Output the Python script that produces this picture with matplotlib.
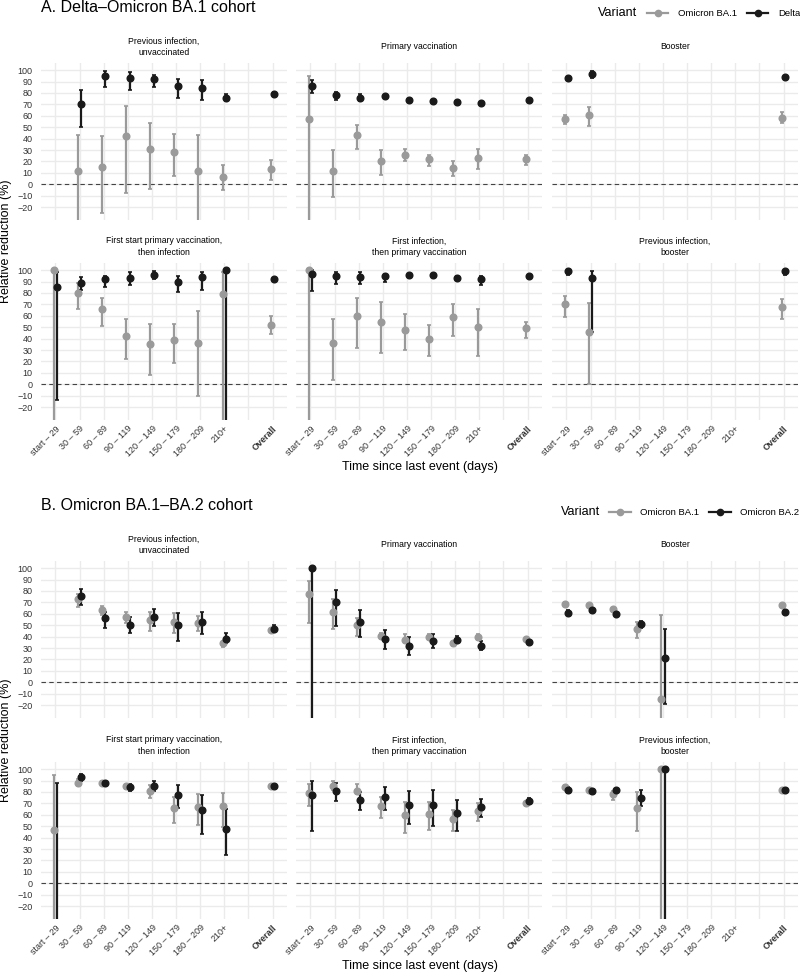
import matplotlib
matplotlib.use("Agg")
import matplotlib.pyplot as plt
from matplotlib.lines import Line2D

plt.rcParams['font.family'] = ['Liberation Sans', 'DejaVu Sans']

# x positions: 8 time bins, an empty slot, then "Overall"
categories = ["start – 29", "30 – 59", "60 – 89", "90 – 119", "120 – 149",
              "150 – 179", "180 – 209", "210+", "", "Overall"]
data_pos = [0, 1, 2, 3, 4, 5, 6, 7, 9]

panel_titles = ["Previous infection,\nunvaccinated", "Primary vaccination", "Booster",
                "First start primary vaccination,\nthen infection",
                "First infection,\nthen primary vaccination",
                "Previous infection,\nbooster"]

# (estimate, lower, upper) per time bin + overall; None = no estimate
# A. Delta-Omicron BA.1 cohort
a1_ba1 = [None, (12, -100, 43), (15, -25, 42), (42, -8, 69), (31, -4, 54), (28, 7, 44), (12, -100, 43), (6, -5, 17), (13, 3.5, 21.5)]
a1_delta = [None, (70, 50, 83), (95, 85, 99), (93, 83, 98), (92, 85, 96), (86, 76, 92), (84, 74, 91), (76, 73, 79), (79, 77, 81)]
a2_ba1 = [(57, -100, 95), (12, -11, 30), (43, 31, 52), (20, 8, 30), (26, 20, 31), (22, 16, 26), (14, 7, 20), (23, 13, 31), (22, 17, 26)]
a2_delta = [(86, 80, 91), (78, 74, 81), (76, 73, 79), (77, 76, 78), (74, 73, 75), (73, 72, 74), (72, 71, 73), (71, 70, 72), (74, 73, 75)]
a3_ba1 = [(57, 53, 61), (61, 51, 68), None, None, None, None, None, None, (58, 54, 63)]
a3_delta = [(93, 92, 94), (97, 93, 99), None, None, None, None, None, None, (94, 93, 95)]
a4_ba1 = [(100, -100, 100), (80, 66, 89), (66, 51, 76), (42, 22, 57), (35, 8, 53), (39, 19, 53), (36, -10, 64), (79, -100, 98), (52, 44, 60)]
a4_delta = [(85, -14, 98), (89, 83, 94), (92, 85, 95), (93, 87, 98), (96, 92, 99), (90, 81, 95), (94, 83, 98), (100, -100, 100), (92, 91, 93)]
a5_ba1 = [(100, -100, 100), (36, 3.5, 57), (60, 32, 76), (55, 27, 72), (48, 30, 62), (40, 25, 52), (59, 42, 70), (50, 25, 66), (49, 41, 55)]
a5_delta = [(97, 82, 100), (95, 88, 98), (94, 88, 98), (95, 90, 97), (96, 95, 97), (96, 95, 97), (93, 91, 95), (92, 87, 95), (95, 94, 96)]
a6_ba1 = [(70, 59, 77), (46, 0, 71), None, None, None, None, None, None, (68, 57, 75)]
a6_delta = [(99, 96, 100), (93, 46, 99), None, None, None, None, None, None, (99, 96, 100)]

# B. Omicron BA.1-BA.2 cohort
b1_ba1 = [None, (73, 66, 77), (63, 59, 67), (57, 52, 62), (55, 45, 62), (53, 43, 61), (52, 45, 58), (34, 31, 36), (46, 45, 47)]
b1_ba2 = [None, (76, 68, 82), (56, 48, 62), (50, 43, 57), (57, 49, 64), (50, 36, 61), (53, 42, 62), (38, 34, 43), (47, 44, 50)]
b2_ba1 = [(77, 52, 89), (62, 47, 73), (50, 41, 56), (41, 38, 43), (37, 34, 42), (40, 38, 42), (34, 32, 36), (40, 37, 42), (38, 37, 39)]
b2_ba2 = [(100, -100, 100), (70, 49, 81), (53, 40, 63), (38, 29, 46), (32, 24, 40), (36, 30, 42), (37, 34, 41), (32, 28, 36), (35, 34, 37)]
b3_ba1 = [(69, 68, 70), (68, 67, 69), (64, 62, 65), (47, 39, 53), (-15, -100, 59), None, None, None, (68, 67, 69)]
b3_ba2 = [(61, 59, 63), (63, 62, 64), (60, 59, 62), (51, 48, 54), (21, -19, 47), None, None, None, (62, 61, 63)]
b4_ba1 = [(47, -100, 95), (88, 85, 91), (88, 86, 90), (85, 83, 86), (81, 75, 86), (66, 53, 76), (67, 51, 78), (68, 49, 79), (85, 84, 86)]
b4_ba2 = [(-60, -100, 88), (93, 90, 96), (88, 85, 90), (84, 81, 87), (85, 81, 90), (77, 66, 86), (64, 43, 77), (48, 25, 65), (85, 84, 86)]
b5_ba1 = [(79, 68, 87), (85, 82, 90), (81, 78, 87), (68, 57, 76), (60, 44, 71), (61, 47, 71), (56, 46, 64), (63, 55, 70), (70, 68, 71)]
b5_ba2 = [(77, 46, 90), (81, 72, 88), (73, 64, 80), (76, 64, 84), (69, 52, 81), (69, 50, 82), (62, 46, 73), (67, 58, 74), (72, 70, 75)]
b6_ba1 = [(84, 83, 86), (82, 81, 83), (78, 73, 81), (66, 46, 80), (100, -100, 100), None, None, None, (82, 81, 83)]
b6_ba2 = [(82, 79, 84), (81, 80, 82), (82, 80, 83), (75, 68, 82), (100, -100, 100), None, None, None, (82, 81, 83)]

cohort_a = [(a1_ba1, a1_delta), (a2_ba1, a2_delta), (a3_ba1, a3_delta),
            (a4_ba1, a4_delta), (a5_ba1, a5_delta), (a6_ba1, a6_delta)]
cohort_b = [(b1_ba1, b1_ba2), (b2_ba1, b2_ba2), (b3_ba1, b3_ba2),
            (b4_ba1, b4_ba2), (b5_ba1, b5_ba2), (b6_ba1, b6_ba2)]

GREY = '#9a9a9a'
DARK = '#1a1a1a'
W, H = 800, 980

fig = plt.figure(figsize=(W / 100, H / 100), dpi=100)


def fx(x):
    return x / W


def fy(y):
    return 1 - y / H


col_x = [41, 296, 552]
panel_w, panel_h = 246, 157
yticks = list(range(-20, 101, 10))


def draw_series(ax, values, offset, color):
    for pos, v in zip(data_pos, values):
        if v is None:
            continue
        est, lo, hi = v
        x = pos + offset
        ax.errorbar([x], [est], yerr=[[est - lo], [hi - est]], fmt='o', color=color,
                    ms=4.8, elinewidth=1.6, capsize=1.2, capthick=1.2, mec=color)


def draw_cohort(data, rows_top, title, title_y, legend_y, legend_x, labels):
    for i, (s1, s2) in enumerate(data):
        r, c = divmod(i, 3)
        top = rows_top[r]
        ax = fig.add_axes([fx(col_x[c]), fy(top + panel_h), panel_w / W, panel_h / H])
        ax.set_xlim(-0.6, 9.6)
        ax.set_ylim(-31.25, 106.25)
        ax.set_xticks(range(10))
        ax.set_yticks(yticks)
        ax.grid(color='#ebebeb', lw=1.0)
        ax.set_axisbelow(True)
        for s in ax.spines.values():
            s.set_visible(False)
        ax.tick_params(length=0, labelsize=6.5, labelcolor='#333333')
        ax.tick_params(axis='y', pad=6)
        ax.tick_params(axis='x', pad=3)
        if c == 0:
            ax.set_yticklabels([str(v).replace('-', '\u2212') for v in yticks])
        else:
            ax.set_yticklabels([])
        if r == 1:
            ax.set_xticklabels(categories, rotation=45, ha='right', va='top',
                               rotation_mode='anchor')
            ax.get_xticklabels()[9].set_fontweight('bold')
        else:
            ax.set_xticklabels([])
        ax.axhline(0, color='#444444', lw=0.8, ls=(0, (4, 3)), zorder=1)
        draw_series(ax, s1, -0.07, GREY)
        draw_series(ax, s2, 0.07, DARK)
        fig.text(fx(col_x[c] + panel_w / 2), fy(top - 16.5), panel_titles[i],
                 ha='center', va='center', fontsize=6.2, linespacing=1.3)

    fig.text(fx(41), fy(title_y), title, ha='left', va='center', fontsize=11.5)
    mid = (rows_top[0] + rows_top[1] + panel_h) / 2
    fig.text(fx(6), fy(mid), 'Relative reduction (%)', rotation=90,
             ha='center', va='center', fontsize=9)
    fig.text(fx(419.5), fy(rows_top[1] + panel_h + 47), 'Time since last event (days)',
             ha='center', va='center', fontsize=9)

    # legend
    fig.text(fx(legend_x[0]), fy(legend_y), 'Variant', ha='left', va='center', fontsize=9)
    for (x1, x2, xt), lab, col in zip(legend_x[1:], labels, [GREY, DARK]):
        fig.add_artist(Line2D([fx(x1), fx(x2)], [fy(legend_y), fy(legend_y)],
                              transform=fig.transFigure, color=col, lw=1.6))
        fig.add_artist(Line2D([fx((x1 + x2) / 2)], [fy(legend_y)], transform=fig.transFigure,
                              marker='o', color=col, ms=4.5, lw=0))
        fig.text(fx(xt), fy(legend_y), lab, ha='left', va='center', fontsize=6.8)


draw_cohort(cohort_a, [63, 263], 'A. Delta–Omicron BA.1 cohort', 7, 13,
            [598, (647, 668, 678), (747, 768, 778)], ['Omicron BA.1', 'Delta'])
draw_cohort(cohort_b, [561, 762], 'B. Omicron BA.1–BA.2 cohort', 505, 512,
            [561, (609, 631, 640), (709, 731, 740)], ['Omicron BA.1', 'Omicron BA.2'])

fig.savefig('out.png', dpi=100, facecolor='white')
